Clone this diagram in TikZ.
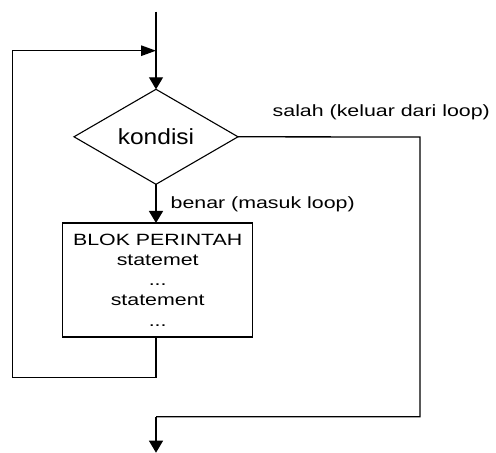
\documentclass[tikz,border=0pt]{standalone}
\usepackage{fontspec}
\setmainfont{Liberation Sans}
\newfontfamily\bodyfont{Liberation Sans}[FakeStretch=1.31]
\newfontfamily\condfont{Liberation Sans}[FakeStretch=1.12]
\usetikzlibrary{arrows.meta,shapes.geometric}

\tikzset{
  flow/.style={line width=1.3bp, draw=black},
  varrow/.style={flow, -{Triangle[length=12bp,width=14bp]}},
  harrow/.style={flow, -{Triangle[length=15bp,width=10.5bp]}},
  decision/.style={diamond, draw=black, line width=1.1bp, inner sep=0pt, outer sep=0pt,
    minimum width=164bp, minimum height=95bp, aspect=1.73,
    font=\condfont\fontsize{21.9bp}{24bp}\selectfont},
  block/.style={rectangle, draw=black, line width=1.1bp, inner sep=0pt, outer sep=0pt,
    minimum width=190bp, minimum height=114bp, align=center,
    font=\bodyfont\fontsize{16.3bp}{20.2bp}\selectfont},
  lbl/.style={inner sep=0pt, outer sep=0pt, anchor=base west,
    font=\bodyfont\fontsize{16.3bp}{20.2bp}\selectfont}
}

\begin{document}
\begin{tikzpicture}[x=1bp,y=-1bp]
  \useasboundingbox (0,0) rectangle (496,453);

  % entry and loop-back junction
  \coordinate (top) at (156,11.7);
  \coordinate (join) at (156,50.7);

  % condition and loop body
  \node[decision] (kondisi) at (156,136.8) {kondisi};
  \node[block] (blok) at (157.7,280) {BLOK PERINTAH\\statemet\\...\\statement\\...};

  % corners of the false (exit) path
  \coordinate (exitR) at (420,137);
  \coordinate (exitRB) at (420,416.7);
  \coordinate (exitL) at (156,416.7);
  \coordinate (out) at (156,452.7);

  % corners of the loop-back path
  \coordinate (backB) at (156,377.7);
  \coordinate (backBL) at (12.3,377.7);
  \coordinate (backTL) at (12.3,50.7);

  % entry arrow into the condition
  \draw[varrow] (top) -- (kondisi.north);

  % true branch into the block
  \draw[varrow] (kondisi.south) -- (kondisi.south |- blok.north);

  % loop back from the block to the condition
  \draw[harrow] (kondisi.south |- blok.south) -- (backB) -- (backBL) -- (backTL) -- (join);

  % false branch leaving the loop
  \draw[flow] (kondisi.east) -- (exitR) -- (exitRB) -- (exitL);
  \draw[varrow] (exitL) -- (out);

  % branch labels
  \node[lbl] (salah) at (272.7,117) {salah (keluar dari loop)};
  \node[lbl] (benar) at (170.7,208.3) {benar (masuk loop)};
\end{tikzpicture}
\end{document}
